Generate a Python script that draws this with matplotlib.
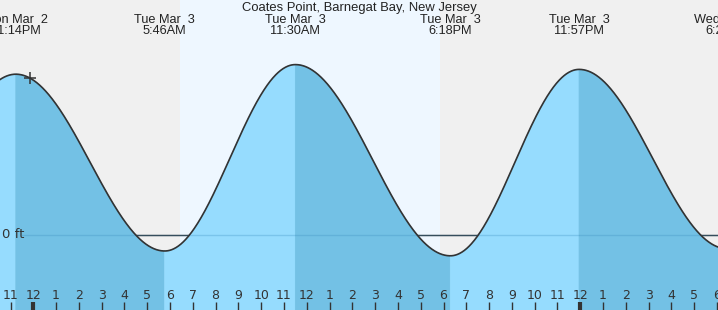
import numpy as np
import pandas as pd
import matplotlib
matplotlib.use("Agg")
import matplotlib.pyplot as plt

# tide chart data
title = "Coates Point, Barnegat Bay, New Jersey"
ext_times = ["2015-03-02 17:00", "2015-03-02 23:14", "2015-03-03 05:46",
             "2015-03-03 11:30", "2015-03-03 18:18", "2015-03-03 23:57",
             "2015-03-04 06:26"]
ext_heights = [-0.20, 2.01, -0.20, 2.13, -0.26, 2.07, -0.17]
ext_labels = [None, "Mon Mar  2\n11:14PM", "Tue Mar  3\n5:46AM",
              "Tue Mar  3\n11:30AM", "Tue Mar  3\n6:18PM",
              "Tue Mar  3\n11:57PM", "Wed Mar  4\n6:26AM"]
sun_times = ["2015-03-03 06:26", "2015-03-03 17:50"]
now_time = "2015-03-02 23:51"
hour_ticks = list(range(-1, 31))

t0 = pd.Timestamp("2015-03-03 00:00")


def hrs(s):
    return (pd.Timestamp(s) - t0).total_seconds() / 3600.0


ext_t = np.array([hrs(s) for s in ext_times])
ext_h = np.array(ext_heights)


def tide(t):
    # cosine between consecutive high/low
    t = np.atleast_1d(t)
    out = np.zeros(len(t))
    for k in range(len(t)):
        i = np.searchsorted(ext_t, t[k]) - 1
        i = min(max(i, 0), len(ext_t) - 2)
        f = (t[k] - ext_t[i]) / (ext_t[i + 1] - ext_t[i])
        out[k] = ext_h[i] + (ext_h[i + 1] - ext_h[i]) * (1 - np.cos(np.pi * f)) / 2
    return out


W, H = 718, 310
px_per_hr = 22.79
x0_px = 33.3          # midnight Mar 3
px_per_ft = 80.0
zero_px = 235.0

xmin = -x0_px / px_per_hr
xmax = (W - x0_px) / px_per_hr
ytop = zero_px / px_per_ft
ybot = -(H - zero_px) / px_per_ft

light = "#96dcfe"
dark = "#73c1e5"
bg = "#f0f0f0"
day = "#eef7ff"

fig = plt.figure(figsize=(W / 100, H / 100), dpi=100)
fig.patch.set_facecolor(bg)
ax = fig.add_axes([0, 0, 1, 1])
ax.set_facecolor(bg)
ax.set_xlim(xmin, xmax)
ax.set_ylim(ybot, ytop)
ax.axis("off")

ax.axvspan(hrs(sun_times[0]), hrs(sun_times[1]), color=day, lw=0, zorder=0)
ax.axhline(0, color="#333333", lw=1.0, zorder=1)

tt = np.linspace(xmin - 0.1, xmax + 0.1, 1500)
tt = np.sort(np.concatenate([tt, ext_t]))
hh = tide(tt)
for i in range(len(ext_t) - 1):
    m = (tt >= ext_t[i]) & (tt <= ext_t[i + 1])
    if not m.any():
        continue
    col = light if ext_h[i + 1] > ext_h[i] else dark
    ax.fill_between(tt[m], hh[m], ybot - 1, facecolor=col, edgecolor=col,
                    lw=0.6, zorder=2)
ax.plot(tt, hh, color="#333333", lw=1.2, zorder=4)

# faint zero line over the water
ax.plot([xmin + 22 / px_per_hr, xmax], [0, 0], color="#3c8fc0", lw=1.0,
        alpha=0.3, zorder=3)
ax.text(xmin + 2 / px_per_hr, 0, "0 ft", ha="left", va="center",
        fontsize=9.5, color="#333333", family="DejaVu Sans", zorder=5)

# current time marker
tn = hrs(now_time)
ax.plot([tn], tide(tn), marker="+", ms=9, mew=1.1, color="#333333", zorder=5)

# hour ticks and labels
xt = ax.get_xaxis_transform()
for hr in hour_ticks:
    lab = str((hr % 12) or 12)
    thick = hr % 24 == 0
    ax.plot([hr, hr], [0, 8 / H], transform=xt, color="#333333",
            lw=3 if thick else 1, solid_capstyle="butt", zorder=5)
    ax.text(hr, 1 - 295.5 / H, lab, transform=xt, ha="center", va="center",
            fontsize=9, color="#333333", family="DejaVu Sans", zorder=5)

# high / low labels at the top
for t, lab in zip(ext_t, ext_labels):
    if lab is None:
        continue
    l1, l2 = lab.split("\n")
    ax.text(t, 1 - 20 / H, l1, transform=xt, ha="center", va="center",
            fontsize=9.2, color="#222222", family="Liberation Sans", clip_on=False)
    ax.text(t, 1 - 31.5 / H, l2, transform=xt, ha="center", va="center",
            fontsize=9.2, color="#222222", family="Liberation Sans", clip_on=False)

fig.text(0.5, 1 - 8.5 / H, title, ha="center", va="center", fontsize=9.4,
         color="#222222", family="Liberation Sans")

fig.savefig("out.png", dpi=100, facecolor=bg)
